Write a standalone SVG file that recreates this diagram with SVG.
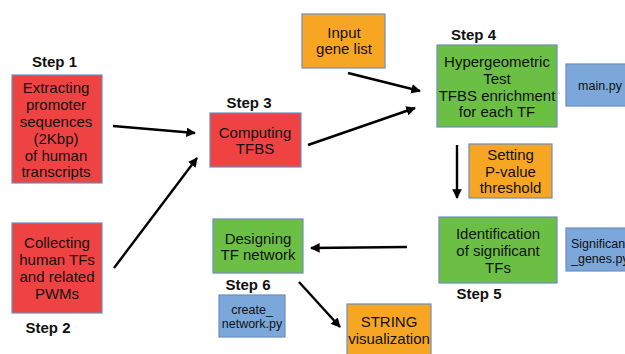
<svg xmlns="http://www.w3.org/2000/svg" width="625" height="354" viewBox="0 0 625 354">
<style>
text{font-family:"Liberation Sans",Arial,sans-serif;fill:#111;text-anchor:middle}
.t{font-size:15px}
.s{font-size:15px;font-weight:bold}
.c{font-size:12.5px}
.red{fill:#EF4343;stroke:#6C8EBF;stroke-width:1.2}
.grn{fill:#6BBF45;stroke:#6C8EBF;stroke-width:1.2}
.org{fill:#F7A623;stroke:#6C8EBF;stroke-width:1.2}
.blu{fill:#7BA7DA;stroke:#6C8EBF;stroke-width:1.2}
.a{stroke:#000;stroke-width:2.4;fill:none;marker-end:url(#ah)}
</style>
<defs>
<marker id="ah" viewBox="0 0 10 10" refX="9" refY="5" markerWidth="4" markerHeight="4" orient="auto" markerUnits="strokeWidth">
<path d="M0,0 L10,5 L0,10 z" fill="#000"/>
</marker>
</defs>
<rect width="625" height="354" fill="#fff"/>
<g id="step1">
<text class="s" x="54.5" y="67">Step 1</text>
<rect class="red" x="12" y="75" width="90" height="108"/>
<text class="t" x="56" y="93">Extracting</text>
<text class="t" x="56" y="110">promoter</text>
<text class="t" x="56" y="127">sequences</text>
<text class="t" x="56" y="144">(2Kbp)</text>
<text class="t" x="56" y="161">of human</text>
<text class="t" x="56" y="177">transcripts</text>
</g>
<g id="step2">
<rect class="red" x="12" y="223" width="90" height="90"/>
<text class="t" x="57" y="248">Collecting</text>
<text class="t" x="57" y="265">human TFs</text>
<text class="t" x="57" y="282">and related</text>
<text class="t" x="57" y="299">PWMs</text>
<text class="s" x="48" y="333">Step 2</text>
</g>
<g id="step3">
<text class="s" x="249" y="108">Step 3</text>
<rect class="red" x="210" y="113" width="91" height="54"/>
<text class="t" x="255" y="138">Computing</text>
<text class="t" x="255" y="154">TFBS</text>
</g>
<g id="input">
<rect class="org" x="302" y="14" width="83" height="54"/>
<text class="t" x="344" y="38">Input</text>
<text class="t" x="344" y="54">gene list</text>
</g>
<g id="step4">
<text class="s" x="473.5" y="40">Step 4</text>
<rect class="grn" x="437" y="45" width="120" height="82"/>
<text class="t" x="497" y="67">Hypergeometric</text>
<text class="t" x="497" y="84">Test</text>
<text class="t" x="497" y="101">TFBS enrichment</text>
<text class="t" x="497" y="117">for each TF</text>
</g>
<g id="mainpy">
<rect class="blu" x="566" y="64" width="65" height="42"/>
<text class="c" x="600" y="90">main.py</text>
</g>
<g id="threshold">
<rect class="org" x="469" y="144" width="83" height="54"/>
<text class="t" x="510.5" y="160">Setting</text>
<text class="t" x="510.5" y="177">P-value</text>
<text class="t" x="510.5" y="193">threshold</text>
</g>
<g id="step5">
<rect class="grn" x="439" y="217" width="118" height="66"/>
<text class="t" x="498" y="239">Identification</text>
<text class="t" x="498" y="256">of significant</text>
<text class="t" x="498" y="273">TFs</text>
<text class="s" x="479" y="299">Step 5</text>
</g>
<g id="sigpy">
<rect class="blu" x="566" y="228" width="65" height="43"/>
<text class="c" x="571" y="248" style="text-anchor:start">Significant</text>
<text class="c" x="571" y="263" style="text-anchor:start">_genes.py</text>
</g>
<g id="step6">
<rect class="grn" x="213" y="219" width="90" height="54"/>
<text class="t" x="258" y="244">Designing</text>
<text class="t" x="258" y="260">TF network</text>
<text class="s" x="248" y="290">Step 6</text>
</g>
<g id="createpy">
<rect class="blu" x="219" y="295" width="66" height="42"/>
<text class="c" x="252" y="314">create_</text>
<text class="c" x="252" y="328">network.py</text>
</g>
<g id="string">
<rect class="org" x="347" y="304" width="84" height="56"/>
<text class="t" x="389" y="327">STRING</text>
<text class="t" x="389" y="344">visualization</text>
</g>
<g id="connectors">
<line class="a" x1="113" y1="126" x2="195" y2="133"/>
<line class="a" x1="114" y1="268" x2="197" y2="158"/>
<line class="a" x1="348" y1="73" x2="420" y2="91"/>
<line class="a" x1="308" y1="145" x2="415" y2="108"/>
<line class="a" x1="457" y1="145" x2="457" y2="198"/>
<line class="a" x1="407" y1="247" x2="311" y2="248"/>
<line class="a" x1="299" y1="282" x2="340" y2="327"/>
</g>
</svg>
